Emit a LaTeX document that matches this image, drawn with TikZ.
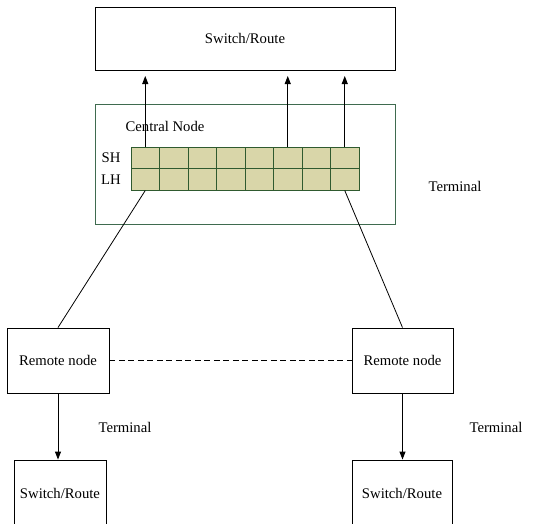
\documentclass[tikz,border=0pt]{standalone}
\usepackage{fontspec}
\setmainfont{Liberation Serif}
\usetikzlibrary{arrows.meta}

\definecolor{cellfill}{HTML}{D9D6A9}
\definecolor{celledge}{HTML}{2F5A2F}
\definecolor{hubedge}{HTML}{3F6B4F}

\tikzset{
  box/.style={draw, line width=0.9pt, inner sep=0pt},
  cell/.style={draw=celledge, fill=cellfill, line width=1pt,
    minimum width=28.5pt, minimum height=21.5pt, inner sep=0pt},
  up/.style={-{Triangle[length=8pt,width=6pt]}, line width=0.9pt},
  link/.style={line width=0.8pt}
}

\begin{document}
\begin{tikzpicture}[x=1pt,y=-1pt,font=\fontsize{14.7}{17}\selectfont]
  \clip (0,0) rectangle (548,523);

  % upper switch and the central node frame
  \node[box, minimum width=300pt, minimum height=63pt] (top) at (245,38.5) {Switch/Route};
  \node[box, draw=hubedge, minimum width=300pt, minimum height=120pt] (hub) at (245,164) {};
  \node (hubname) at (165,126) {Central Node};
  \node (sh) at (111,158) {SH};
  \node (lh) at (111,180) {LH};
  \node (t1) at (455,186) {Terminal};

  % two rows of buffer cells
  \foreach \i in {1,...,8} {
    \node[cell] (s\i) at (131+28.5*\i-14.25,157.75) {};
    \node[cell] (l\i) at (131+28.5*\i-14.25,179.25) {};
  }

  % remote nodes and their switches
  \node[box, minimum width=102pt, minimum height=65pt] (rl) at (58,360.5) {Remote node};
  \node[box, minimum width=101pt, minimum height=65pt] (rr) at (402.5,360.5) {Remote node};
  \node[box, minimum width=92pt, minimum height=66pt] (wl) at (60,493) {Switch/Route};
  \node[box, minimum width=100pt, minimum height=66pt] (wr) at (402,493) {Switch/Route};
  \node (t2) at (125,427) {Terminal};
  \node (t3) at (496,427) {Terminal};

  \coordinate (a1) at (s1.north |- 0,76);
  \coordinate (a6) at (s6.north |- 0,76);
  \coordinate (a8) at (s8.north |- 0,76);
  \draw[up] (s1.north) -- (a1);
  \draw[up] (s6.north) -- (a6);
  \draw[up] (s8.north) -- (a8);

  \draw[link] (l1.south) -- (rl.north);
  \draw[link] (l8.south) -- (rr.north);
  \draw[link, dashed, dash pattern=on 6pt off 3.5pt] (rl.east) -- (rr.west);
  \draw[up] (rl.south) -- (wl.north -| rl.south);
  \draw[up] (rr.south) -- (wr.north -| rr.south);
\end{tikzpicture}
\end{document}
